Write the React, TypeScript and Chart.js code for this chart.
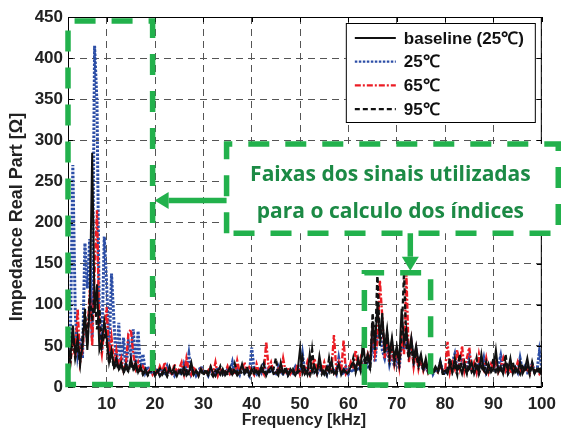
import React, { useEffect, useRef } from "react";
import { Chart, registerables } from "chart.js";

Chart.register(...registerables);

// Sampling grid of the impedance sweep, kHz
const freqKHz = [
  2, 2.5, 3, 3.5, 4, 4.5,
  5, 5.5, 6, 6.5, 7, 7.5, 8, 8.5, 9, 9.5,
  10, 10.5, 11, 11.5, 12, 12.5, 13, 13.5, 14, 14.5,
  15, 15.5, 16, 16.5, 17, 17.5, 18, 18.5, 19, 19.5,
  20, 20.5, 21, 21.5, 22, 22.5, 23, 23.5, 24, 24.5,
  25, 25.5, 26, 26.5, 27, 27.5, 28, 28.5, 29, 29.5,
  30, 30.5, 31, 31.5, 32, 32.5, 33, 33.5, 34, 34.5,
  35, 35.5, 36, 36.5, 37, 37.5, 38, 38.5, 39, 39.5,
  40, 40.5, 41, 41.5, 42, 42.5, 43, 43.5, 44, 44.5,
  45, 45.5, 46, 46.5, 47, 47.5, 48, 48.5, 49, 49.5,
  50, 50.5, 51, 51.5, 52, 52.5, 53, 53.5, 54, 54.5,
  55, 55.5, 56, 56.5, 57, 57.5, 58, 58.5, 59, 59.5,
  60, 60.5, 61, 61.5, 62, 62.5, 63, 63.5, 64, 64.5,
  65, 65.5, 66, 66.5, 67, 67.5, 68, 68.5, 69, 69.5,
  70, 70.5, 71, 71.5, 72, 72.5, 73, 73.5, 74, 74.5,
  75, 75.5, 76, 76.5, 77, 77.5, 78, 78.5, 79, 79.5,
  80, 80.5, 81, 81.5, 82, 82.5, 83, 83.5, 84, 84.5,
  85, 85.5, 86, 86.5, 87, 87.5, 88, 88.5, 89, 89.5,
  90, 90.5, 91, 91.5, 92, 92.5, 93, 93.5, 94, 94.5,
  95, 95.5, 96, 96.5, 97, 97.5, 98, 98.5, 99, 99.5,
  100,
];

// Real part of the impedance, ohms
const baseline25 = [
  50, 35, 75, 40, 60, 30,
  50, 90, 45, 100, 285, 90, 125, 45, 55, 80,
  60, 30, 45, 25, 35, 22, 30, 18, 28, 20,
  35, 22, 30, 18, 25, 16, 22, 15, 20, 25,
  15, 20, 13, 18, 22, 14, 25, 16, 19, 13,
  20, 16, 24, 14, 18, 30, 15, 20, 13, 22,
  16, 19, 14, 25, 17, 13, 20, 15, 22, 14,
  18, 24, 15, 20, 14, 18, 28, 16, 20, 15,
  22, 16, 20, 14, 25, 18, 15, 20, 24, 16,
  18, 14, 30, 16, 20, 15, 22, 18, 14, 20,
  47, 16, 22, 15, 40, 18, 25, 16, 38, 20,
  15, 24, 18, 32, 16, 20, 28, 15, 22, 18,
  18, 25, 30, 20, 35, 22, 55, 30, 40, 25,
  80, 50, 100, 60, 90, 45, 70, 40, 60, 35,
  50, 30, 95, 55, 70, 40, 60, 35, 50, 30,
  40, 22, 35, 20, 28, 18, 25, 20, 32, 18,
  20, 16, 28, 18, 35, 20, 25, 16, 30, 18,
  22, 30, 16, 25, 18, 40, 20, 16, 28, 18,
  22, 45, 18, 25, 16, 30, 20, 35, 16, 24,
  18, 30, 16, 22, 35, 18, 25, 16, 22, 18,
  15,
];

const temp25 = [
  45, 60, 270, 90, 40, 60,
  35, 175, 120, 180, 60, 415, 345, 70, 45, 183,
  125, 40, 138, 80, 25, 78, 22, 60, 20, 55,
  40, 70, 22, 68, 20, 40, 18, 25, 16, 20,
  18, 22, 15, 20, 17, 25, 16, 19, 14, 22,
  18, 15, 28, 20, 40, 16, 22, 14, 19, 25,
  16, 20, 14, 22, 18, 15, 24, 17, 20, 14,
  22, 18, 30, 16, 21, 15, 25, 17, 19, 14,
  48, 20, 16, 24, 18, 30, 15, 22, 17, 20,
  14, 25, 18, 16, 22, 15, 20, 17, 24, 16,
  19, 40, 17, 22, 15, 25, 18, 16, 23, 17,
  20, 15, 28, 18, 22, 16, 35, 19, 15, 24,
  16, 22, 18, 28, 20, 25, 18, 35, 22, 30,
  55, 30, 65, 70, 45, 35, 50, 28, 40, 25,
  35, 22, 55, 45, 60, 40, 55, 30, 45, 25,
  30, 20, 25, 18, 28, 16, 22, 18, 30, 20,
  18, 25, 20, 30, 40, 22, 28, 35, 20, 25,
  38, 20, 25, 18, 30, 22, 35, 18, 25, 20,
  28, 18, 25, 38, 20, 22, 18, 30, 20, 24,
  18, 35, 20, 25, 18, 22, 28, 18, 20, 43,
  22,
];

const temp65 = [
  40, 30, 55, 35, 95, 30,
  45, 80, 60, 118, 50, 140, 215, 60, 40, 70,
  97, 35, 60, 30, 45, 25, 35, 20, 30, 65,
  70, 40, 22, 30, 18, 25, 20, 17, 22, 15,
  20, 15, 25, 18, 30, 16, 22, 14, 28, 17,
  22, 30, 16, 35, 20, 15, 25, 18, 14, 22,
  18, 15, 20, 25, 16, 30, 14, 22, 18, 17,
  25, 16, 20, 15, 32, 18, 22, 30, 17, 24,
  20, 15, 28, 18, 22, 16, 55, 22, 30, 18,
  15, 22, 17, 35, 19, 24, 16, 21, 18, 28,
  15, 22, 18, 30, 16, 24, 35, 18, 28, 20,
  30, 18, 24, 20, 63, 20, 30, 18, 57, 16,
  20, 30, 22, 45, 25, 35, 20, 28, 40, 30,
  75, 40, 55, 130, 85, 35, 60, 30, 50, 28,
  45, 25, 60, 40, 136, 30, 55, 25, 45, 22,
  35, 20, 30, 18, 25, 20, 22, 18, 25, 20,
  20, 55, 18, 30, 22, 45, 25, 50, 20, 35,
  48, 22, 30, 18, 40, 25, 20, 35, 18, 28,
  22, 30, 18, 25, 35, 20, 28, 17, 24, 20,
  30, 18, 25, 20, 22, 16, 28, 18, 22, 16,
  20,
];

const temp95 = [
  45, 30, 65, 35, 50, 28,
  60, 95, 50, 110, 80, 115, 70, 95, 50, 65,
  55, 28, 40, 22, 30, 20, 28, 17, 25, 18,
  30, 20, 26, 16, 22, 15, 20, 14, 18, 22,
  14, 18, 22, 15, 19, 13, 21, 17, 24, 14,
  18, 22, 15, 20, 16, 25, 14, 19, 16, 20,
  14, 22, 16, 18, 13, 20, 17, 25, 15, 19,
  16, 20, 14, 28, 17, 22, 15, 19, 25, 14,
  18, 22, 15, 19, 16, 28, 14, 20, 17, 22,
  35, 15, 20, 16, 25, 14, 19, 22, 15, 18,
  20, 35, 16, 20, 15, 45, 18, 22, 30, 16,
  22, 15, 35, 18, 20, 16, 25, 18, 20, 15,
  18, 22, 35, 18, 30, 20, 45, 25, 35, 20,
  90, 45, 140, 50, 80, 40, 65, 35, 55, 30,
  45, 28, 60, 140, 50, 35, 50, 30, 40, 25,
  35, 20, 30, 18, 25, 16, 22, 18, 28, 16,
  16, 22, 35, 18, 25, 15, 40, 20, 25, 16,
  30, 18, 22, 35, 16, 25, 18, 30, 16, 22,
  35, 16, 25, 20, 18, 40, 16, 22, 30, 18,
  22, 16, 28, 18, 25, 15, 30, 18, 16, 25,
  14,
];

const xTickValues = [10, 20, 30, 40, 50, 60, 70, 80, 90, 100];
const yTickValues = [0, 50, 100, 150, 200, 250, 300, 350, 400, 450];

const seriesLabels = ["baseline (25\u2103)", "25\u2103", "65\u2103", "95\u2103"];
const xTitle = "Frequency [kHz]";
const yTitle = "Impedance Real Part [\u03A9]";
const noteLines = ["Faixas dos sinais utilizadas", "para o calculo dos índices"];

// Highlighted frequency bands and the note box, in axis units
const bandLow = { x0: 2, x1: 19.5, y0: 3, y1: 445 };
const bandHigh = { x0: 63.3, x1: 77.0, y0: 2.5, y1: 139 };
const noteBox = { x0: 34.8, x1: 103.4, y0: 187, y1: 295.6 };

const FONT = '"Liberation Sans", Arial, Helvetica, sans-serif';
const GREEN = "#22b14c";
const GREEN_TEXT = "#1c8a45";
const BLUE = "#2c4ea6";
const RED = "#ec1c24";

const seriesStyles = [
  { color: "#111111", width: 2.0, dash: [] as number[] },
  { color: BLUE, width: 3.0, dash: [2.5, 1.5] },
  { color: RED, width: 2.4, dash: [6, 2, 2, 2] },
  { color: "#111111", width: 2.3, dash: [5, 3] },
];

function dashedRect(ctx: CanvasRenderingContext2D, x0: number, y0: number, x1: number, y1: number) {
  ctx.save();
  ctx.strokeStyle = GREEN;
  ctx.lineWidth = 5.5;
  ctx.lineCap = "butt";
  ctx.setLineDash([21, 16]);
  ctx.beginPath();
  ctx.moveTo(x0, y1);
  ctx.lineTo(x0, y0);
  ctx.lineTo(x1, y0);
  ctx.lineTo(x1, y1);
  ctx.closePath();
  ctx.stroke();
  ctx.restore();
}

function arrow(ctx: CanvasRenderingContext2D, x0: number, y0: number, x1: number, y1: number) {
  const dx = x1 - x0, dy = y1 - y0;
  const len = Math.hypot(dx, dy);
  const ux = dx / len, uy = dy / len;
  const headLen = 14, headHalf = 8.5;
  const bx = x1 - ux * headLen, by = y1 - uy * headLen;
  ctx.save();
  ctx.strokeStyle = GREEN;
  ctx.fillStyle = GREEN;
  ctx.lineWidth = 5.5;
  ctx.setLineDash([]);
  ctx.beginPath();
  ctx.moveTo(x0, y0);
  ctx.lineTo(bx, by);
  ctx.stroke();
  ctx.beginPath();
  ctx.moveTo(x1, y1);
  ctx.lineTo(bx - uy * headHalf, by + ux * headHalf);
  ctx.lineTo(bx + uy * headHalf, by - ux * headHalf);
  ctx.closePath();
  ctx.fill();
  ctx.restore();
}

const overlayPlugin = {
  id: "overlay",
  afterDraw(chart: any) {
    const { ctx, chartArea: a, scales } = chart;
    const xs = scales.x, ys = scales.y;
    const px = (v: number) => xs.getPixelForValue(v);
    const py = (v: number) => ys.getPixelForValue(v);
    ctx.save();

    // plot frame with inward ticks
    ctx.strokeStyle = "#000";
    ctx.lineWidth = 1;
    ctx.setLineDash([]);
    ctx.strokeRect(a.left + 0.5, a.top + 0.5, a.right - a.left - 1, a.bottom - a.top - 1);
    ctx.beginPath();
    for (const v of xTickValues) {
      const x = Math.round(px(v)) + 0.5;
      ctx.moveTo(x, a.bottom);
      ctx.lineTo(x, a.bottom - 5);
      ctx.moveTo(x, a.top);
      ctx.lineTo(x, a.top + 5);
    }
    for (const v of yTickValues) {
      const y = Math.round(py(v)) + 0.5;
      ctx.moveTo(a.left, y);
      ctx.lineTo(a.left + 5, y);
      ctx.moveTo(a.right, y);
      ctx.lineTo(a.right - 5, y);
    }
    ctx.stroke();

    // axis titles
    ctx.fillStyle = "#222";
    ctx.textAlign = "center";
    ctx.textBaseline = "middle";
    ctx.font = `bold 16px ${FONT}`;
    ctx.fillText(xTitle, (a.left + a.right) / 2 - 1, 421);
    ctx.save();
    ctx.translate(17, 217);
    ctx.rotate(-Math.PI / 2);
    ctx.font = `bold 18px ${FONT}`;
    ctx.fillText(yTitle, 0, 0);
    ctx.restore();

    // legend
    const lw = 189, lh = 99;
    const lx = a.right - 7 - lw, ly = a.top + 6;
    ctx.fillStyle = "#fff";
    ctx.fillRect(lx, ly, lw, lh);
    ctx.strokeStyle = "#000";
    ctx.lineWidth = 1;
    ctx.strokeRect(lx + 0.5, ly + 0.5, lw, lh);
    ctx.font = `bold 17px ${FONT}`;
    ctx.textAlign = "left";
    ctx.textBaseline = "middle";
    seriesLabels.forEach((label, i) => {
      const st = seriesStyles[i];
      const y = ly + 15 + i * 23.7;
      ctx.save();
      ctx.strokeStyle = st.color;
      ctx.lineWidth = Math.min(st.width, 2.2);
      ctx.setLineDash(st.dash);
      ctx.beginPath();
      ctx.moveTo(lx + 9, y);
      ctx.lineTo(lx + 50, y);
      ctx.stroke();
      ctx.restore();
      ctx.fillStyle = "#111";
      ctx.fillText(label, lx + 58, y + 1);
    });

    // highlighted bands
    dashedRect(ctx, px(bandLow.x0), py(bandLow.y1), px(bandLow.x1), py(bandLow.y0));
    dashedRect(ctx, px(bandHigh.x0), py(bandHigh.y1), px(bandHigh.x1), py(bandHigh.y0));

    // note box
    const nx0 = px(noteBox.x0), nx1 = px(noteBox.x1);
    const ny0 = py(noteBox.y1), ny1 = py(noteBox.y0);
    ctx.fillStyle = "#fff";
    ctx.fillRect(nx0, ny0, nx1 - nx0, ny1 - ny0);
    dashedRect(ctx, nx0, ny0, nx1, ny1);
    ctx.fillStyle = GREEN_TEXT;
    ctx.font = `bold 21px "Open Sans", Lato, sans-serif`;
    ctx.textAlign = "center";
    ctx.textBaseline = "alphabetic";
    const cx = (nx0 + nx1) / 2 - 2;
    ctx.fillText(noteLines[0], cx, ny0 + 37);
    ctx.fillText(noteLines[1], cx, ny0 + 74);

    // arrows from the note to each band
    const ay = (ny0 + ny1) / 2 + 12;
    arrow(ctx, nx0, ay, px(bandLow.x1) + 2, ay);
    const ax = px(72.8);
    arrow(ctx, ax, ny1, ax, py(bandHigh.y1) - 2);

    ctx.restore();
  },
};

export default function App() {
  const canvasRef = useRef<HTMLCanvasElement>(null);

  useEffect(() => {
    const canvas = canvasRef.current;
    if (!canvas) return;
    const toPoints = (ys: number[]) => freqKHz.map((f, i) => ({ x: f, y: ys[i] }));
    const series = [baseline25, temp25, temp65, temp95];
    // lower order draws on top: 95℃ above baseline above 65℃ above 25℃
    const orders = [2, 4, 3, 1];
    const tickFont = { family: FONT, size: 17, weight: "bold" as const };

    const chart = new Chart(canvas, {
      type: "line",
      data: {
        datasets: series.map((ys, i) => ({
          label: seriesLabels[i],
          data: toPoints(ys),
          borderColor: seriesStyles[i].color,
          borderWidth: seriesStyles[i].width,
          borderDash: seriesStyles[i].dash,
          pointRadius: 0,
          tension: 0,
          fill: false,
          order: orders[i],
        })),
      },
      options: {
        animation: false,
        responsive: false,
        layout: { padding: { top: 17, right: 17, left: 0, bottom: 0 } },
        plugins: { legend: { display: false }, tooltip: { enabled: false } },
        scales: {
          x: {
            type: "linear",
            min: 2,
            max: 100,
            afterBuildTicks: (s: any) => {
              s.ticks = xTickValues.map((v) => ({ value: v }));
            },
            afterFit: (s: any) => {
              s.height = 45;
            },
            grid: { color: "#555", lineWidth: 1, drawTicks: false },
            border: { display: false, dash: [7, 5] },
            ticks: { padding: 7, font: tickFont, color: "#222", maxRotation: 0, autoSkip: false },
          },
          y: {
            type: "linear",
            min: 0,
            max: 450,
            afterBuildTicks: (s: any) => {
              s.ticks = yTickValues.map((v) => ({ value: v }));
            },
            afterFit: (s: any) => {
              s.width = 68;
            },
            grid: { color: "#555", lineWidth: 1, drawTicks: false },
            border: { display: false, dash: [7, 5] },
            ticks: { padding: 5, font: tickFont, color: "#222", autoSkip: false },
          },
        },
      },
      plugins: [overlayPlugin],
    });
    return () => chart.destroy();
  }, []);

  return (
    <div style={{ position: "fixed", left: 0, top: 0, width: 563, height: 432, background: "#fff" }}>
      <canvas ref={canvasRef} width={563} height={432} style={{ display: "block" }} />
    </div>
  );
}
